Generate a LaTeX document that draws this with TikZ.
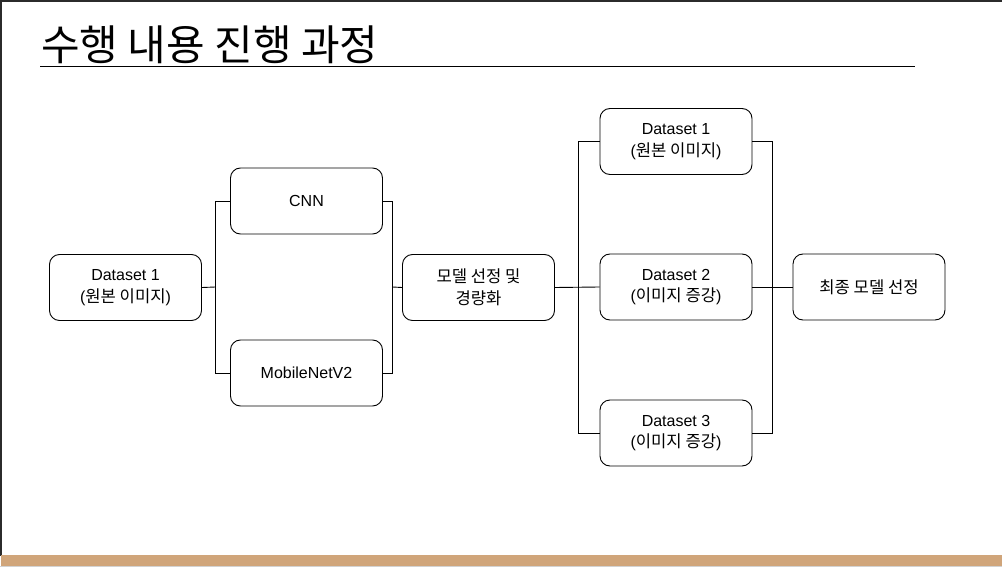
\documentclass[tikz,border=0pt]{standalone}
\usepackage{fontspec}
\setmainfont{Liberation Sans}
\newfontfamily\kr[Scale=1.04]{Noto Sans CJK KR}
\newfontfamily\krtitle{Noto Sans CJK KR}
\definecolor{tanbar}{HTML}{D0A57A}
\definecolor{frame}{HTML}{2B2B2B}
\begin{document}
\begin{tikzpicture}[x=1pt,y=-1pt,
  box/.style={draw=black,line width=0.9pt,rounded corners=10pt,minimum width=152pt,minimum height=66pt,
    align=center,font=\fontsize{16}{21.5}\selectfont,inner sep=0pt},
  conn/.style={draw=black,line width=0.9pt}]
\useasboundingbox (0,0) rectangle (1002,567);
\fill[white] (0,0) rectangle (1002,567);
% frame
\fill[frame] (0,0) rectangle (1002,2);
\fill[frame] (0,0) rectangle (1.5,556);
\fill[tanbar] (1,555) rectangle (1002,566);
\fill[gray!35] (0,566) rectangle (1002,567);
% title
\node[anchor=base west,inner sep=0pt,font=\krtitle\fontsize{42}{44}\selectfont] (title) at (41,61) {수행 내용 진행 과정};
\draw[line width=1pt] (40,67) -- (915,67);
% boxes
\node[box] (d1l) at (125.5,287.5) {Dataset 1\\({\kr 원본 이미지})};
\node[box] (cnn) at (306.5,201) {CNN};
\node[box] (mob) at (306.5,373) {MobileNetV2};
\node[box] (sel) at (478.5,287.5) {{\kr 모델 선정 및}\\{\kr 경량화}};
\node[box] (r1) at (676,141.5) {Dataset 1\\({\kr 원본 이미지})};
\node[box] (r2) at (676,287) {Dataset 2\\({\kr 이미지 증강})};
\node[box] (r3) at (676,433) {Dataset 3\\({\kr 이미지 증강})};
\node[box] (fin) at (869,287) {{\kr 최종 모델 선정}};
% junctions
\coordinate (bl) at (215.5,287);
\coordinate (br) at (392.5,287);
\coordinate (cl) at (578,287);
\coordinate (cr) at (772,287);
% connectors
\draw[conn] (d1l.east) -- (bl);
\draw[conn] (cnn.west) -- (cnn.west -| bl) -- (mob.west -| bl) -- (mob.west);
\draw[conn] (cnn.east) -- (cnn.east -| br) -- (mob.east -| br) -- (mob.east);
\draw[conn] (br) -- (sel.west);
\draw[conn] (sel.east) -- (r2.west);
\draw[conn] (r1.west) -- (r1.west -| cl) -- (r3.west -| cl) -- (r3.west);
\draw[conn] (r1.east) -- (r1.east -| cr) -- (r3.east -| cr) -- (r3.east);
\draw[conn] (r2.east) -- (fin.west);
\end{tikzpicture}
\end{document}
